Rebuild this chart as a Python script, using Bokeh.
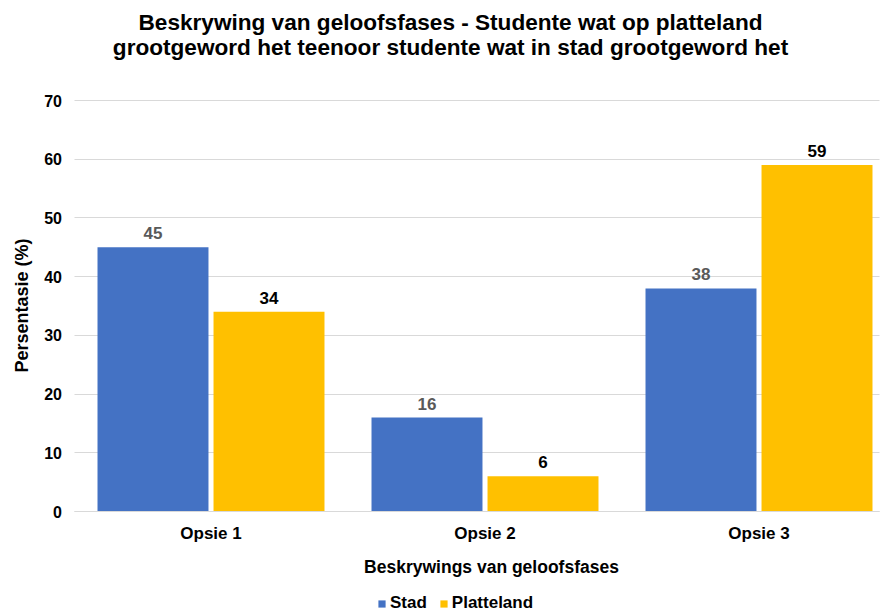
from bokeh.plotting import figure
from bokeh.models import (ColumnDataSource, Range1d, FixedTicker, Label, Legend,
                          LegendItem, Grid)
from bokeh.core.properties import value
from bokeh.embed import file_html
from bokeh.resources import INLINE
import math

# ---- data ----
categories = ["Opsie 1", "Opsie 2", "Opsie 3"]
series_names = ["Stad", "Platteland"]
stad = [45, 16, 38]
platteland = [34, 6, 59]
y_ticks = [0, 10, 20, 30, 40, 50, 60, 70]
title_lines = ["Beskrywing van geloofsfases - Studente wat op platteland",
               "grootgeword het teenoor studente wat in stad grootgeword het"]
x_title = "Beskrywings van geloofsfases"
y_title = "Persentasie (%)"

BLUE = "#4472C4"
YELLOW = "#FFC000"
GRID = "#D9D9D9"
FONT = "Liberation Sans"

# ---- geometry (pixels) ----
W, H = 880, 612
X0_PX = 73.5          # where category axis starts
PX_PER_CAT = 274.0
Y0_PX, Y70_PX = 511.0, 100.0
y_per_px = 70.0 / (Y0_PX - Y70_PX)


def xd(px):
    return (px - X0_PX) / PX_PER_CAT


def yd(py):
    return (Y0_PX - py) * y_per_px


n_cat = len(categories)
p = figure(width=W, height=H, output_backend="svg", toolbar_location=None,
           x_range=Range1d(xd(0), xd(W)), y_range=Range1d(yd(H), yd(0)),
           min_border_left=0, min_border_right=0, min_border_top=0,
           min_border_bottom=0)
p.outline_line_color = None
p.background_fill_color = "white"
p.border_fill_color = "white"
p.title.visible = False

centers = [i + 0.5 for i in range(n_cat)]
off = 0.2117
bw = 0.405
src_s = ColumnDataSource(dict(x=[c - off for c in centers], top=stad,
                              lab=[str(v) for v in stad]))
src_p = ColumnDataSource(dict(x=[c + off for c in centers], top=platteland,
                              lab=[str(v) for v in platteland]))

# grid lines
p.xgrid.grid_line_color = None
p.ygrid.grid_line_color = GRID
p.ygrid.ticker = FixedTicker(ticks=y_ticks)
if "cross_bounds" in Grid.properties():
    p.ygrid.cross_bounds = (0, xd(W) - 0.005)
else:
    p.ygrid.grid_line_color = None
    p.segment(x0=0, x1=xd(W) - 0.005, y0=y_ticks, y1=y_ticks,
              line_color=GRID, line_width=1)

r1 = p.vbar(x="x", top="top", width=bw, bottom=0, source=src_s,
            fill_color=BLUE, line_color=None)
r2 = p.vbar(x="x", top="top", width=bw, bottom=0, source=src_p,
            fill_color=YELLOW, line_color=None)

p.text(x="x", y="top", text="lab", source=src_s, text_align="center",
       text_baseline="bottom", y_offset=-8, text_font=value(FONT),
       text_font_style="bold", text_font_size="17px", text_color="#595959")
p.text(x="x", y="top", text="lab", source=src_p, text_align="center",
       text_baseline="bottom", y_offset=-8, text_font=value(FONT),
       text_font_style="bold", text_font_size="17px", text_color="#000000")

# axes (drawn at the data origin inside the frame)
p.xaxis.ticker = FixedTicker(ticks=centers)
p.xaxis.major_label_overrides = {c: cat for c, cat in zip(centers, categories)}
p.yaxis.ticker = FixedTicker(ticks=y_ticks)
for ax in (p.xaxis[0], p.yaxis[0]):
    ax.fixed_location = 0
    ax.major_tick_line_color = None
    ax.minor_tick_line_color = None
    ax.major_label_text_font = FONT
    ax.major_label_text_font_style = "bold"
    ax.major_label_text_color = "#000000"
p.xaxis.bounds = (0, xd(W) - 0.005)
p.yaxis.bounds = (0, 70)
p.xaxis.major_label_text_font_size = "17px"
p.yaxis.major_label_text_font_size = "16px"
p.xaxis.major_label_standoff = 6
p.yaxis.major_label_standoff = 6
p.xaxis.axis_line_color = GRID
p.yaxis.axis_line_color = None

# titles
for line, base in zip(title_lines, [22, 47]):
    p.add_layout(Label(x=xd(450), y=yd(base), text=line,
                       text_align="center", text_baseline="alphabetic",
                       text_font=FONT, text_font_style="bold",
                       text_font_size="22.6px", text_color="#000000"))

p.add_layout(Label(x=xd(491), y=yd(566), text=x_title,
                   text_align="center", text_baseline="alphabetic",
                   text_font=FONT, text_font_style="bold",
                   text_font_size="17.5px", text_color="#000000"))
p.add_layout(Label(x=xd(21), y=yd(305), text=y_title, angle=math.pi / 2,
                   text_align="center", text_baseline="alphabetic",
                   text_font=FONT, text_font_style="bold",
                   text_font_size="18px", text_color="#000000"))

legend = Legend(items=[LegendItem(label=series_names[0], renderers=[r1]),
                       LegendItem(label=series_names[1], renderers=[r2])],
                orientation="horizontal", location=(377, -1),
                padding=0, margin=0, spacing=12, label_standoff=4,
                glyph_width=9, glyph_height=9,
                label_text_font=FONT, label_text_font_style="bold",
                label_text_font_size="17px", label_text_color="#000000",
                border_line_color=None, background_fill_alpha=0)
p.add_layout(legend, "center")

open("out.html", "w").write(file_html(p, INLINE))
